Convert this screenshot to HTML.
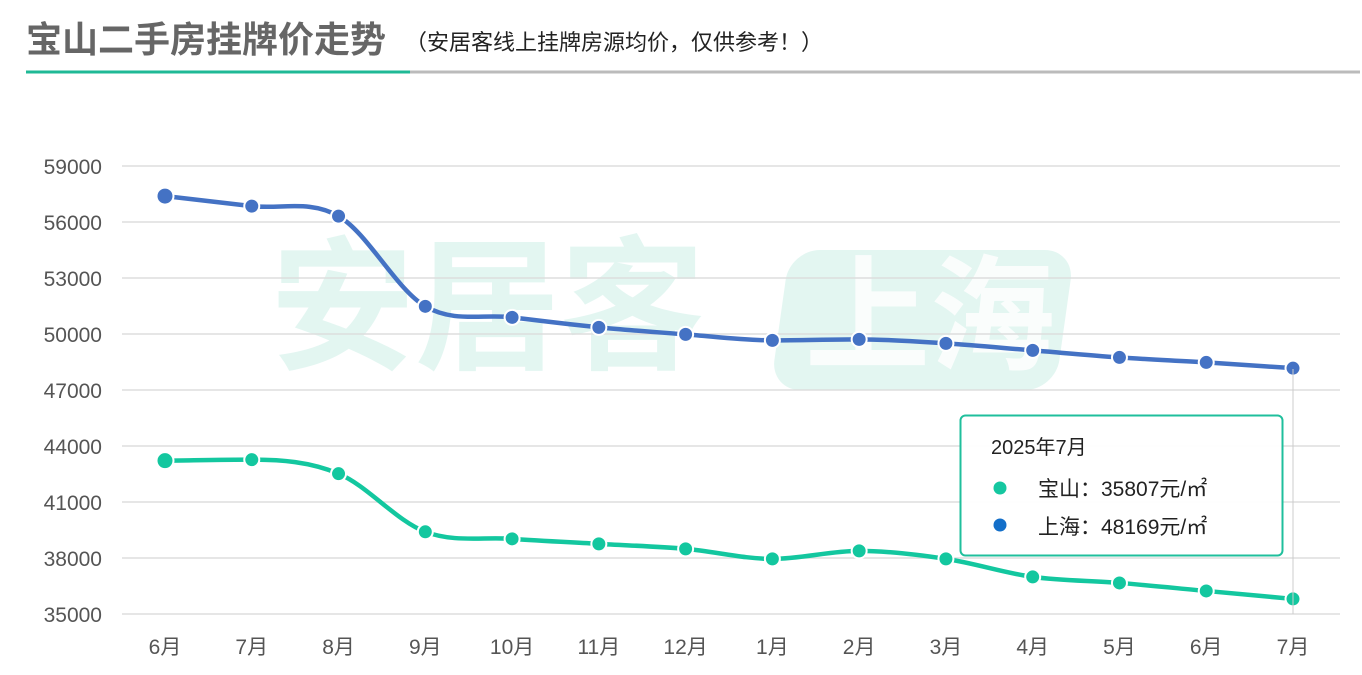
<!DOCTYPE html>
<html><head><meta charset="utf-8"><style>
body{margin:0;background:#fff;width:1362px;height:675px;overflow:hidden;font-family:"Liberation Sans","Noto Sans CJK SC",sans-serif}
svg{position:absolute;left:0;top:0}
</style></head><body>
<svg width="1362" height="675" id="c">
<text x="26" y="52" font-size="36" font-weight="bold" fill="#666" font-family="Liberation Sans,Noto Sans CJK SC,sans-serif">宝山二手房挂牌价走势</text>
<text x="405" y="50" font-size="22" fill="#222" font-family="Liberation Sans,Noto Sans CJK SC,sans-serif">（安居客线上挂牌房源均价，仅供参考！）</text>
<line x1="26" y1="72" x2="1360" y2="72" stroke="#bbb" stroke-width="3"/>
<line x1="26" y1="72" x2="410" y2="72" stroke="#1fb996" stroke-width="3"/>
<g opacity="0.12" font-family="Liberation Sans,Noto Sans CJK SC,sans-serif" font-weight="bold">
<text x="270" y="358" font-size="145" fill="#1fb996">安居客</text>
<rect x="790" y="250" width="285" height="140" rx="30" fill="#1fb996" transform="skewX(-8) translate(35,0)"/>
</g>
<g font-family="Liberation Sans,Noto Sans CJK SC,sans-serif" font-weight="bold" opacity="0.85">
<text x="805" y="360" font-size="125" fill="#fff">上海</text>
</g>
<g id="grid"></g><g id="series"></g>
<line x1="1293" y1="369" x2="1293" y2="614" stroke="#ccc" stroke-width="1"/>
<g font-family="Liberation Sans,Noto Sans CJK SC,sans-serif">
<rect x="960.5" y="415.5" width="322" height="140" rx="5" fill="rgba(255,255,255,0.95)" stroke="#1fbf9c" stroke-width="2"/>
<text x="991" y="454" font-size="20" fill="#222">2025年7月</text>
<circle cx="1000" cy="488" r="6.5" fill="#15c7a0"/>
<text x="1038" y="496" font-size="21" fill="#222">宝山：35807元/㎡</text>
<circle cx="1000" cy="525" r="6.5" fill="#136fc9"/>
<text x="1038" y="534" font-size="21" fill="#222">上海：48169元/㎡</text>
</g>
</svg>
<script>
const categories=["6月","7月","8月","9月","10月","11月","12月","1月","2月","3月","4月","5月","6月","7月"];
const shanghai=[57389,56852,56315,51483,50892,50356,49980,49658,49711,49497,49121,48745,48477,48169];
const baoshan=[43215,43268,42517,39403,39027,38758,38490,37953,38383,37953,36987,36664,36235,35807];
const yTicks=[35000,38000,41000,44000,47000,50000,53000,56000,59000];
const NS="http://www.w3.org/2000/svg";
const y=v=>614-(v-35000)/24000*448;
const x=i=>165+i*(1293-165)/13;
function mk(t,a,p){const e=document.createElementNS(NS,t);for(const k in a)e.setAttribute(k,a[k]);p.appendChild(e);return e;}
const grid=document.getElementById('grid'),ser=document.getElementById('series');
yTicks.forEach(v=>{
 const l=mk('line',{x1:122,x2:1340,y1:y(v),y2:y(v),stroke:'#ddd','stroke-width':1.5},grid);
 
 
 const t=mk('text',{x:102,y:y(v)+8,'font-size':21,fill:'#555','text-anchor':'end'},grid);
 t.textContent=v;
 
 
});
categories.forEach((c,i)=>{
 const t=mk('text',{x:x(i),y:654,'font-size':21,fill:'#555','text-anchor':'middle'},grid);
 t.textContent=c;
 
 
});
function path(vals){
 const P=vals.map((v,i)=>[x(i),y(v)]);const n=P.length;
 const d=[],m=[];
 for(let i=0;i<n-1;i++)d.push((P[i+1][1]-P[i][1])/(P[i+1][0]-P[i][0]));
 m[0]=d[0];m[n-1]=d[n-2];
 for(let i=1;i<n-1;i++)m[i]=d[i-1]*d[i]<=0?0:(d[i-1]+d[i])/2;
 let s=`M${P[0][0]},${P[0][1]}`;
 for(let i=0;i<n-1;i++){const h=(P[i+1][0]-P[i][0])/3;
  s+=` C${P[i][0]+h},${P[i][1]+m[i]*h} ${P[i+1][0]-h},${P[i+1][1]-m[i+1]*h} ${P[i+1][0]},${P[i+1][1]}`;}
 return s;
}
function draw(vals,col,name){
 const p=mk('path',{d:path(vals),fill:'none',stroke:col,'stroke-width':4.5},ser);
 
 
 vals.forEach((v,i)=>{
  const c=mk('circle',{cx:x(i),cy:y(v),r:i==0?8.5:7.5,fill:col,stroke:'#fff','stroke-width':2},ser);
  
  
 });
}
draw(shanghai,'#4472c4','shanghai');
draw(baoshan,'#13c79f','baoshan');
</script>
</body></html>
